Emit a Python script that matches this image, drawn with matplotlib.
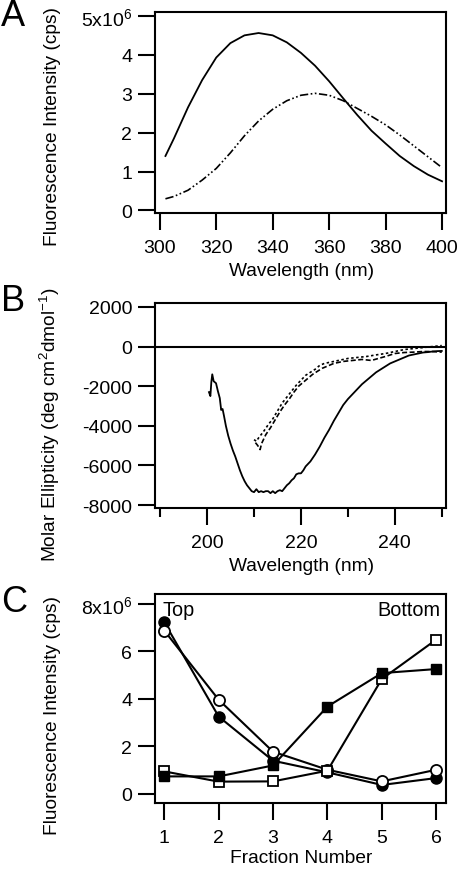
import matplotlib
matplotlib.use("Agg")
import matplotlib.pyplot as plt
import numpy as np

plt.rcParams['font.family'] = ['Liberation Sans', 'DejaVu Sans']
plt.rcParams['mathtext.fontset'] = 'custom'
plt.rcParams['mathtext.rm'] = 'Liberation Sans'
plt.rcParams['mathtext.it'] = 'Liberation Sans'
plt.rcParams['axes.unicode_minus'] = False

# ---- panel A: fluorescence emission spectra (x1e6 cps)
wl_a = [302, 305, 310, 315, 320, 325, 330, 335, 340, 345, 350,
        355, 360, 365, 370, 375, 380, 385, 390, 395, 400]
fl_solid = [1.40, 1.85, 2.65, 3.35, 3.93, 4.30, 4.50, 4.56, 4.50, 4.32, 4.05,
            3.72, 3.32, 2.88, 2.45, 2.05, 1.72, 1.40, 1.14, 0.92, 0.75]
fl_dash = [0.30, 0.36, 0.52, 0.78, 1.08, 1.48, 1.92, 2.30, 2.60, 2.82, 2.96,
           3.01, 2.96, 2.82, 2.62, 2.42, 2.20, 1.94, 1.66, 1.38, 1.10]

# ---- panel B: CD spectra
wl_b_solid = [200.4, 200.7, 200.9, 201.1, 201.4, 201.9, 202.3, 202.7, 203.0, 203.3,
              203.6, 204.0, 204.5, 205.0, 205.5, 206.0, 206.5, 207.0, 207.5, 208.0,
              208.5, 209.0, 209.5, 210.0, 210.5, 211.0, 211.5, 212.0, 212.5, 213.0,
              213.5, 214.0, 214.5, 215.0, 215.5, 216.0, 216.5, 217.0, 217.5, 218.0,
              218.5, 219.0, 219.5, 220.0, 220.5, 221.0, 222.0, 223.0, 224.0, 225.0,
              226.0, 227.0, 228.0, 229.0, 230.0, 231.0, 232.0, 233.0, 234.0, 235.0,
              236.0, 237.0, 238.0, 239.0, 240.0, 241.0, 242.0, 243.0, 244.0, 245.0,
              246.0, 247.0, 248.0, 249.0, 250.0]
cd_solid = [-2300, -2500, -1800, -1400, -1750, -1850, -2250, -2600, -3200, -3150,
            -3500, -4000, -4500, -4900, -5250, -5550, -5900, -6250, -6550, -6800,
            -7000, -7150, -7300, -7350, -7200, -7350, -7300, -7350, -7300, -7300,
            -7400, -7300, -7400, -7300, -7250, -7300, -7150, -7000, -6900, -6750,
            -6650, -6450, -6400, -6400, -6250, -6050, -5800, -5450, -5050, -4600,
            -4200, -3750, -3350, -2950, -2650, -2400, -2150, -1900, -1700, -1500,
            -1300, -1150, -1000, -850, -750, -650, -550, -450, -400, -350,
            -300, -280, -250, -230, -220]
wl_b_dot = [210.0, 210.5, 211.0, 212.0, 213.0, 214.0, 215.0, 216.0, 217.0, 218.0,
            219.0, 220.0, 221.0, 222.0, 223.0, 224.0, 225.0, 226.0, 228.0, 230.0,
            232.0, 234.0, 236.0, 238.0, 240.0, 242.0, 244.0, 246.0, 248.0, 250.0]
cd_dot = [-4700, -4780, -4600, -4300, -3950, -3650, -3250, -2850, -2550, -2250,
          -1950, -1700, -1450, -1300, -1150, -950, -850, -800, -700, -600,
          -550, -500, -420, -350, -250, -150, -100, -50, 0, 50]
wl_b_dash = [210.3, 210.8, 211.3, 211.6, 212.5, 213.5, 214.5, 215.5, 216.5, 217.5,
             218.5, 219.5, 220.5, 221.5, 222.5, 223.5, 224.5, 225.5, 227.0, 229.0,
             231.0, 233.0, 235.0, 236.5, 238.0, 240.0, 242.0, 244.0, 246.0, 248.0, 250.0]
cd_dash = [-4850, -5000, -5200, -4900, -4450, -4100, -3700, -3300, -2950, -2650,
           -2300, -2000, -1800, -1600, -1400, -1250, -1100, -1000, -850, -750,
           -700, -650, -700, -600, -500, -350, -300, -280, -250, -250, -280]

# ---- panel C: fractions (x1e6 cps)
fractions = [1, 2, 3, 4, 5, 6]
filled_circle = [7.23, 3.26, 1.40, 0.91, 0.38, 0.67]
open_circle = [6.88, 3.97, 1.78, 1.02, 0.53, 1.02]
filled_square = [0.74, 0.74, 1.20, 3.68, 5.09, 5.26]
open_square = [0.95, 0.52, 0.53, 0.98, 4.84, 6.50]

W, H = 460, 870
fig = plt.figure(figsize=(W / 100, H / 100), dpi=100)

def px_axes(left, top, right, bottom):
    return fig.add_axes([left / W, 1 - bottom / H, (right - left) / W, (bottom - top) / H])

def style(ax):
    for s in ax.spines.values():
        s.set_linewidth(1.5)
    ax.tick_params(which='major', direction='out', length=12.5, width=1.5,
                   labelsize=14, pad=4, top=False, right=False)
    ax.tick_params(which='minor', direction='out', length=6.5, width=1.5)
    ax.tick_params(axis='x', pad=6)

def ftext(x, y, s, **kw):
    fig.text(x / W, 1 - y / H, s, **kw)

LS = 13.8

# A
axA = px_axes(155, 13, 446, 214)
axA.plot(wl_a, fl_solid, color='black', lw=1.3)
axA.plot(wl_a, fl_dash, color='black', lw=1.2, linestyle=(0, (5, 1.5, 1, 1.5, 1, 1.5)))
axA.set_xlim(298.3, 401.4)
axA.set_ylim(-0.065, 5.1)
axA.set_xticks([300, 320, 340, 360, 380, 400])
axA.set_yticks([0, 1, 2, 3, 4, 5])
axA.set_yticklabels(['0', '1', '2', '3', '4', '5x10$^{6}$'])
style(axA)
ftext(53, 127, 'Fluorescence Intensity (cps)', rotation=90, ha='center', va='center', fontsize=LS)
ftext(302, 272, 'Wavelength (nm)', ha='center', va='center', fontsize=LS)
ftext(1, 17, 'A', ha='left', va='center', fontsize=26)

# B
axB = px_axes(155, 304, 446, 509)
axB.axhline(0, color='black', lw=1.5)
axB.plot(wl_b_solid, cd_solid, color='black', lw=1.3)
axB.plot(wl_b_dot, cd_dot, color='black', lw=1.2, linestyle=(0, (1.5, 1.5)))
axB.plot(wl_b_dash, cd_dash, color='black', lw=1.2, linestyle=(0, (3, 1.5)))
axB.set_xlim(188.9, 250.9)
axB.set_ylim(-8150, 2200)
axB.set_xticks([200, 220, 240])
axB.set_xticks([190, 210, 230, 250], minor=True)
axB.set_yticks([-8000, -6000, -4000, -2000, 0, 2000])
style(axB)
ftext(50, 425, 'Molar Ellipticity (deg cm$^{2}$dmol$^{-1}$)', rotation=90, ha='center', va='center', fontsize=LS)
ftext(302, 567, 'Wavelength (nm)', ha='center', va='center', fontsize=LS)
ftext(1, 302, 'B', ha='left', va='center', fontsize=26)

# C
axC = px_axes(155, 595, 446, 804)
axC.plot(fractions, filled_circle, color='black', lw=1.5, marker='o', ms=8, mfc='black', mec='black')
axC.plot(fractions, open_circle, color='black', lw=1.5, marker='o', ms=8, mfc='white', mec='black', mew=1.3)
axC.plot(fractions, open_square, color='black', lw=1.5, marker='s', ms=7.5, mfc='white', mec='black', mew=1.3)
axC.plot(fractions, filled_square, color='black', lw=1.5, marker='s', ms=7.5, mfc='black', mec='black')
axC.set_xlim(0.83, 6.18)
axC.set_ylim(-0.38, 8.42)
axC.set_xticks(fractions)
axC.set_yticks([0, 2, 4, 6, 8])
axC.set_yticklabels(['0', '2', '4', '6', '8x10$^{6}$'])
style(axC)
axC.text(0.027, 0.97, 'Top', transform=axC.transAxes, ha='left', va='top', fontsize=LS + 0.5)
axC.text(0.98, 0.97, 'Bottom', transform=axC.transAxes, ha='right', va='top', fontsize=LS + 0.5)
ftext(53, 716, 'Fluorescence Intensity (cps)', rotation=90, ha='center', va='center', fontsize=LS)
ftext(301, 859, 'Fraction Number', ha='center', va='center', fontsize=LS)
ftext(1, 603, 'C', ha='left', va='center', fontsize=26)

fig.savefig('out.png', dpi=100)
